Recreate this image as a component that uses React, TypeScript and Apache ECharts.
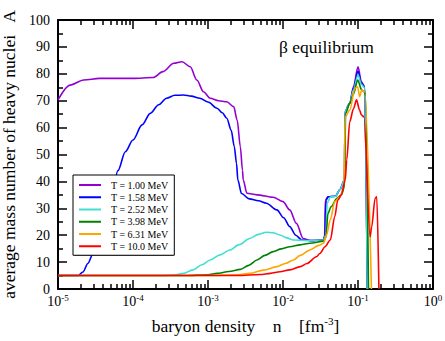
import React, { useEffect, useRef } from "react";
import * as echarts from "echarts";

const seriesNames = ["T = 1.00 MeV", "T = 1.58 MeV", "T = 2.52 MeV", "T = 3.98 MeV", "T = 6.31 MeV", "T = 10.0 MeV"];
const seriesColors = ["#9400D3", "#0000FF", "#40E0D0", "#008000", "#FFA500", "#FF0000"];

const majorTicks = [1e-5, 1e-4, 1e-3, 1e-2, 1e-1, 1];
const minorMultipliers = [2, 3, 4, 5, 6, 7, 8, 9];

// density n [fm^-3] and average mass number A
const nT100 = [1e-5, 1.45e-5, 2.2e-5, 3.6e-5, 1e-4, 1.86e-4, 2.5e-4, 3.5e-4, 4.5e-4, 5.8e-4, 7.1e-4, 8.7e-4, 1.07e-3, 1.38e-3, 1.78e-3, 2.2e-3, 2.45e-3, 2.7e-3, 2.88e-3, 2.95e-3, 3.3e-3, 4.5e-3, 7.4e-3, 0.01, 0.0123, 0.0151, 0.0186, 0.0229, 0.0347, 0.0359, 0.0367, 0.0398, 0.05, 0.0575, 0.066, 0.0672, 0.0776, 0.087, 0.1, 0.111, 0.123, 0.133];
const aT100 = [70.3, 75.8, 77.7, 78.3, 78.3, 78.6, 80.8, 83.9, 84.5, 82.6, 77.7, 73.3, 70.9, 70, 69.6, 67.8, 62.8, 52.9, 44.2, 40.5, 35.6, 35, 34.1, 32.5, 29.4, 24.4, 18.8, 18, 18.2, 20, 33, 34.3, 34.5, 37, 40.5, 66, 69, 75.2, 82.6, 77, 75.2, 0];

const nT158 = [1e-5, 1.85e-5, 2.15e-5, 2.5e-5, 2.95e-5, 3.8e-5, 5e-5, 6.3e-5, 7.9e-5, 1e-4, 1.32e-4, 1.7e-4, 2.2e-4, 2.8e-4, 3.6e-4, 4.7e-4, 6e-4, 7.8e-4, 1e-3, 1.32e-3, 1.55e-3, 1.78e-3, 2.04e-3, 2.24e-3, 2.4e-3, 2.5e-3, 2.8e-3, 3.55e-3, 4.7e-3, 6e-3, 8.3e-3, 0.0102, 0.0123, 0.0148, 0.0178, 0.025, 0.0347, 0.0365, 0.0375, 0.04, 0.05, 0.0575, 0.066, 0.0672, 0.0776, 0.087, 0.1, 0.111, 0.123, 0.133];
const aT158 = [5, 5, 6.3, 9.5, 13.3, 21, 32, 44, 51, 55.4, 61, 65.3, 68.5, 70.9, 72, 72.1, 71.7, 70.9, 69.5, 67.2, 65.5, 63.5, 59, 53, 46.7, 40.5, 35.5, 33.5, 32.8, 31.9, 29.4, 26.5, 23.2, 20, 18.2, 18, 18.2, 20, 33, 34.3, 34.5, 37, 40.5, 66, 69, 74.5, 81, 76.5, 75, 0];

const nT252 = [1e-5, 2.5e-4, 3.5e-4, 4.7e-4, 6.3e-4, 8.3e-4, 1.07e-3, 1.45e-3, 1.95e-3, 2.6e-3, 3.6e-3, 4.7e-3, 6e-3, 7.4e-3, 9.1e-3, 0.0112, 0.0138, 0.021, 0.0347, 0.0372, 0.0389, 0.0427, 0.05, 0.0575, 0.066, 0.0672, 0.0776, 0.087, 0.1, 0.111, 0.123, 0.133];
const aT252 = [5, 5, 5.2, 5.8, 7.1, 9, 10.8, 12.7, 14.5, 16.5, 18.8, 20.3, 21.1, 20.9, 20.1, 19, 18.2, 18, 18.2, 20, 32, 34.2, 34.5, 37, 40.5, 66, 69, 74, 79.5, 76, 74.8, 0];

const nT398 = [1e-5, 5e-4, 1e-3, 1.32e-3, 1.9e-3, 2.7e-3, 3.5e-3, 4.5e-3, 5.75e-3, 7.4e-3, 9.5e-3, 0.0123, 0.017, 0.0229, 0.0347, 0.0372, 0.0398, 0.0437, 0.0525, 0.06, 0.066, 0.0684, 0.0776, 0.087, 0.099, 0.112, 0.122, 0.126, 0.138];
const aT398 = [5, 5, 5.3, 5.8, 6.5, 7.3, 8.8, 10.8, 12.5, 13.9, 14.9, 15.7, 16.4, 17, 17.8, 19, 28.1, 30.6, 33.7, 35, 38, 65.3, 69, 72.5, 77.7, 74, 73.3, 72, 0];

const nT631 = [1e-5, 1e-3, 2.5e-3, 3.6e-3, 5.5e-3, 8.3e-3, 0.0107, 0.0138, 0.017, 0.0229, 0.03, 0.0347, 0.038, 0.0427, 0.049, 0.0575, 0.0646, 0.0676, 0.0776, 0.0912, 0.099, 0.105, 0.112, 0.123, 0.151];
const aT631 = [5, 5, 5.3, 5.8, 7, 8.3, 9.5, 10.8, 12.5, 14.5, 16.2, 17, 20, 25.7, 32.5, 34.3, 38, 64, 66.5, 74.6, 75.2, 71.5, 74, 73.3, 0];

const nT1000 = [1e-5, 2.5e-3, 5e-3, 6.8e-3, 9.1e-3, 0.0123, 0.017, 0.0209, 0.0279, 0.031, 0.0363, 0.0427, 0.049, 0.0537, 0.06, 0.0676, 0.0708, 0.0776, 0.087, 0.0955, 0.105, 0.111, 0.12, 0.145, 0.152, 0.169, 0.178, 0.19];
const aT1000 = [5, 5, 5.4, 5.8, 6.4, 7.1, 8.3, 9.5, 12, 13.2, 15.7, 18.2, 26.9, 33, 35, 40.5, 48, 62.2, 67, 70.3, 66.5, 64.7, 64, 19.4, 23, 33.7, 34.3, 0];

const densities = [nT100, nT158, nT252, nT398, nT631, nT1000];
const masses = [aT100, aT158, aT252, aT398, aT631, aT1000];

const SERIF = "Liberation Serif";

export default function App() {
  const ref = useRef<HTMLDivElement>(null);
  useEffect(() => {
    if (!ref.current) return;
    const chart = echarts.init(ref.current, null, { renderer: "svg" });
    const minorTicks: number[] = [];
    for (let i = 0; i < majorTicks.length - 1; i++) {
      for (const m of minorMultipliers) minorTicks.push(m * majorTicks[i]);
    }
    const xBase = { type: "log", logBase: 10, min: 1e-5, max: 1, gridIndex: 0, splitLine: { show: false }, minorTick: { show: false } };
    const series = seriesNames.map((name, i) => ({
      name,
      type: "line",
      xAxisIndex: 0,
      yAxisIndex: 0,
      symbol: "none",
      smooth: 0.3,
      smoothMonotone: "x",
      lineStyle: { color: seriesColors[i], width: 1.6 },
      itemStyle: { color: seriesColors[i] },
      data: densities[i].map((n, j) => [n, masses[i][j]]),
    }));
    chart.setOption({
      animation: false,
      grid: { left: 58, right: 12, top: 20, bottom: 52, containLabel: false, outerBoundsMode: "none" },
      xAxis: [
        {
          ...xBase,
          position: "bottom",
          axisLine: { show: true, lineStyle: { color: "#000", width: 2 } },
          axisTick: { show: true, inside: true, length: 9, lineStyle: { color: "#000", width: 1.5 }, customValues: majorTicks },
          axisLabel: {
            show: true,
            margin: 4,
            customValues: majorTicks,
            formatter: (v: number) => `{b|10}{s|${Math.round(Math.log10(v))}}`,
            rich: {
              b: { fontFamily: SERIF, fontSize: 14, color: "#000" },
              s: { fontFamily: SERIF, fontSize: 9, color: "#000", verticalAlign: "bottom", padding: [0, 0, 8, 0] },
            },
          },
          name: "baryon density    n    [fm{s|-3}]",
          nameLocation: "middle",
          nameGap: 26,
          nameTextStyle: {
            fontFamily: SERIF,
            fontSize: 17.5,
            color: "#000",
            rich: { s: { fontFamily: SERIF, fontSize: 11, color: "#000", verticalAlign: "bottom", padding: [0, 0, 10, 0] } },
          },
        },
        {
          ...xBase,
          position: "bottom",
          axisLine: { show: false },
          axisTick: { show: true, inside: true, length: 5, lineStyle: { color: "#000", width: 1.5 }, customValues: minorTicks },
          axisLabel: { show: false },
        },
        {
          ...xBase,
          position: "top",
          axisLine: { show: true, lineStyle: { color: "#000", width: 2 } },
          axisTick: { show: true, inside: true, length: 9, lineStyle: { color: "#000", width: 1.5 }, customValues: majorTicks },
          axisLabel: { show: false },
        },
        {
          ...xBase,
          position: "top",
          axisLine: { show: false },
          axisTick: { show: true, inside: true, length: 5, lineStyle: { color: "#000", width: 1.5 }, customValues: minorTicks },
          axisLabel: { show: false },
        },
      ],
      yAxis: [
        {
          type: "value",
          min: 0,
          max: 100,
          interval: 10,
          position: "left",
          splitLine: { show: false },
          axisLine: { show: true, lineStyle: { color: "#000", width: 2 } },
          axisTick: { show: true, inside: true, length: 9, lineStyle: { color: "#000", width: 1.5 } },
          minorTick: { show: true, splitNumber: 2, length: 5, lineStyle: { color: "#000", width: 1.5 } },
          axisLabel: { margin: 8, fontFamily: SERIF, fontSize: 14, color: "#000" },
          name: "average mass number of heavy nuclei   A",
          nameLocation: "middle",
          nameGap: 29,
          nameTextStyle: { fontFamily: SERIF, fontSize: 17.5, color: "#000" },
        },
        {
          type: "value",
          min: 0,
          max: 100,
          interval: 10,
          position: "right",
          splitLine: { show: false },
          axisLine: { show: true, lineStyle: { color: "#000", width: 2 } },
          axisTick: { show: true, inside: true, length: 9, lineStyle: { color: "#000", width: 1.5 } },
          minorTick: { show: true, splitNumber: 2, length: 5, lineStyle: { color: "#000", width: 1.5 } },
          axisLabel: { show: false },
        },
      ],
      legend: {
        orient: "vertical",
        left: 73,
        top: 175,
        padding: [5, 6, 4, 6],
        icon: "rect",
        itemWidth: 22,
        itemHeight: 2,
        itemGap: 2.25,
        backgroundColor: "#fff",
        borderColor: "#000",
        borderWidth: 1,
        data: seriesNames,
        textStyle: { fontFamily: SERIF, fontSize: 10, lineHeight: 10, color: "#000", padding: [0, 0, 0, 5] },
      },
      graphic: [
        {
          type: "rect",
          z: 1,
          shape: { x: 75, y: 177, width: 98, height: 79 },
          style: { fill: "#8c8c8c" },
        },
        {
          type: "text",
          left: 279,
          top: 38,
          style: { text: "β equilibrium", font: `17.5px "${SERIF}"`, fill: "#000" },
        },
      ],
      series,
    });
    return () => chart.dispose();
  }, []);
  return <div ref={ref} style={{ width: 445, height: 341, position: "absolute", left: 0, top: 0 }} />;
}
